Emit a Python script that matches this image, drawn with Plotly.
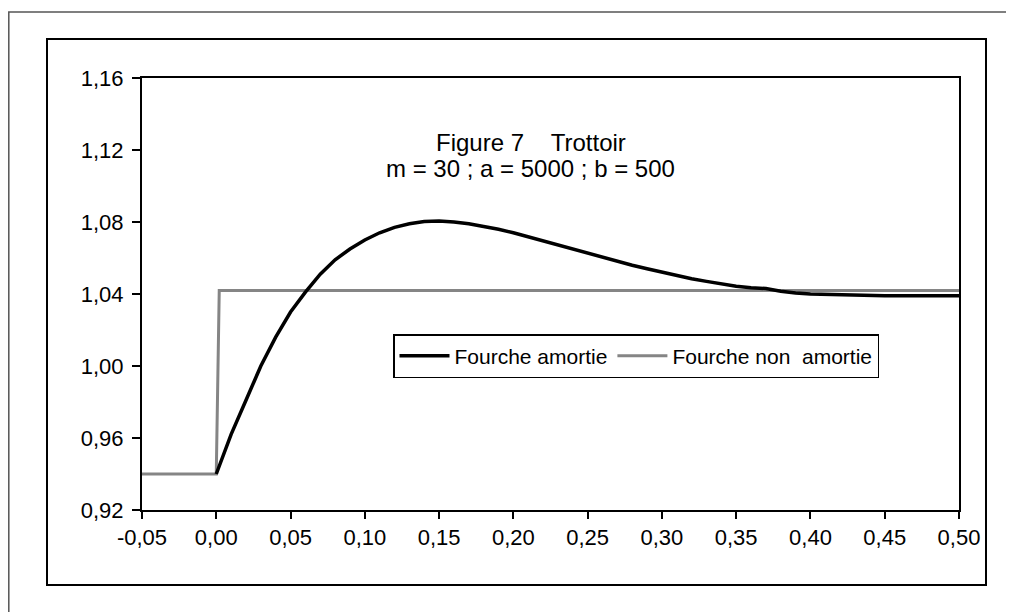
import plotly.graph_objects as go

# Fourche amortie (damped fork)
t_amortie = [0.00, 0.01, 0.02, 0.03, 0.04, 0.05, 0.06, 0.07, 0.08, 0.09,
             0.10, 0.11, 0.12, 0.13, 0.14, 0.15, 0.16, 0.17, 0.18, 0.19,
             0.20, 0.21, 0.22, 0.23, 0.24, 0.25, 0.26, 0.27, 0.28, 0.29,
             0.30, 0.31, 0.32, 0.33, 0.34, 0.35, 0.36, 0.37, 0.38, 0.39,
             0.40, 0.41, 0.42, 0.43, 0.44, 0.45, 0.46, 0.47, 0.48, 0.49, 0.50]
y_amortie = [0.940, 0.962, 0.981, 1.000, 1.016, 1.030, 1.041, 1.051, 1.059, 1.065,
             1.070, 1.074, 1.077, 1.079, 1.0803, 1.0806, 1.080, 1.079, 1.0775, 1.076,
             1.074, 1.0717, 1.0695, 1.067, 1.065, 1.0627, 1.0605, 1.0583, 1.056, 1.054,
             1.052, 1.050, 1.0485, 1.047, 1.0455, 1.0443, 1.0435, 1.043, 1.0415, 1.0405,
             1.040, 1.0398, 1.0393, 1.039, 1.039, 1.039, 1.039, 1.039, 1.039, 1.039, 1.039]

# Fourche non amortie (undamped fork)
t_non_amortie = [-0.05, 0.0, 0.002, 0.50]
y_non_amortie = [0.940, 0.940, 1.042, 1.042]

x_ticks = [-0.05, 0.00, 0.05, 0.10, 0.15, 0.20, 0.25, 0.30, 0.35, 0.40, 0.45, 0.50]
x_tick_labels = ["-0,05", "0,00", "0,05", "0,10", "0,15", "0,20", "0,25",
                 "0,30", "0,35", "0,40", "0,45", "0,50"]
y_ticks = [0.92, 0.96, 1.00, 1.04, 1.08, 1.12, 1.16]
y_tick_labels = ["0,92", "0,96", "1,00", "1,04", "1,08", "1,12", "1,16"]

FONT = "Liberation Sans, Arial, sans-serif"

fig = go.Figure()
fig.add_trace(go.Scatter(x=t_non_amortie, y=y_non_amortie, mode="lines",
                         name="Fourche non\u00a0 amortie",
                         line=dict(color="#858585", width=3)))
fig.add_trace(go.Scatter(x=t_amortie, y=y_amortie, mode="lines",
                         name="Fourche amortie",
                         line=dict(color="#000000", width=3.5)))

# page body has an 8px margin: figure is offset by (8, 8)
OFF = 8
W, H = 1014 - OFF, 612 - OFF
PL, PT, PR, PB = 142, 78, 959, 510   # plot area in page pixels
L, T = PL - OFF, PT - OFF
R = W - (PR - OFF)
B = H - (PB - OFF)
pw, ph = W - L - R, H - T - B

def px(x):
    return (x - PL) / pw

def py(y):
    return 1 - (y - PT) / ph

shapes = [
    dict(type="rect", xref="paper", yref="paper",
         x0=px(8.8), x1=px(1040), y0=py(12), y1=py(660),
         line=dict(color="#555555", width=1.5), fillcolor="rgba(0,0,0,0)"),
    dict(type="rect", xref="paper", yref="paper",
         x0=px(47), x1=px(986), y0=py(39), y1=py(585),
         line=dict(color="#000000", width=2), fillcolor="rgba(0,0,0,0)"),
]

fig.update_layout(
    width=W, height=H,
    margin=dict(l=L, r=R, t=T, b=B),
    paper_bgcolor="white", plot_bgcolor="white",
    font=dict(family=FONT, size=22, color="black"),
    showlegend=True,
    legend=dict(x=px(393), y=py(334), xanchor="left", yanchor="top",
                orientation="h", bgcolor="white",
                bordercolor="black", borderwidth=1.5,
                font=dict(family=FONT, size=21, color="black"),
                itemwidth=50, tracegroupgap=0, traceorder="reversed"),
    hovermode=False,
    shapes=shapes,
    annotations=[
        dict(x=px(531), y=py(142), xref="paper", yref="paper",
             text="Figure 7\u00a0\u00a0\u00a0\u00a0Trottoir", showarrow=False,
             font=dict(family=FONT, size=24, color="black"),
             xanchor="center", yanchor="middle"),
        dict(x=px(530), y=py(168), xref="paper", yref="paper",
             text="m = 30 ; a = 5000 ; b = 500", showarrow=False,
             font=dict(family=FONT, size=24, color="black"),
             xanchor="center", yanchor="middle"),
    ],
)

fig.update_xaxes(range=[-0.05, 0.50], tickvals=x_ticks, ticktext=x_tick_labels,
                 ticks="outside", ticklen=7, tickwidth=1.5, tickcolor="black",
                 showline=True, linecolor="black", linewidth=2, mirror=True,
                 showgrid=False, zeroline=False, ticklabelstandoff=0,
                 tickfont=dict(family=FONT, size=22, color="black"))
fig.update_yaxes(range=[0.92, 1.16], tickvals=y_ticks, ticktext=y_tick_labels,
                 ticks="outside", ticklen=8, tickwidth=1.5, tickcolor="black",
                 showline=True, linecolor="black", linewidth=2, mirror=True,
                 showgrid=False, zeroline=False, ticklabelstandoff=4,
                 tickfont=dict(family=FONT, size=22, color="black"))

fig.write_html("out.html")
